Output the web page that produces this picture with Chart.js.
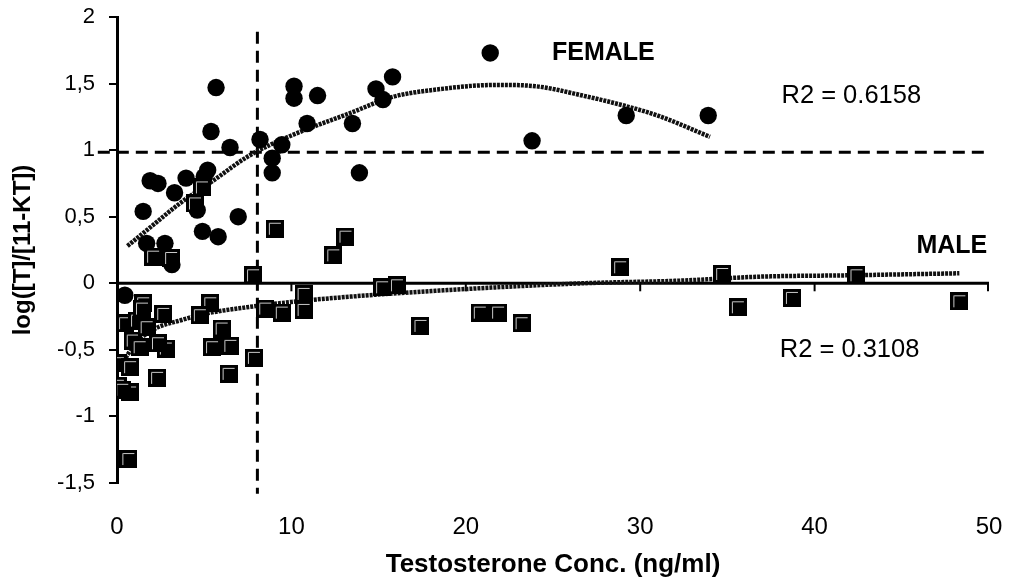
<!DOCTYPE html>
<html><head><meta charset="utf-8">
<script src="https://cdn.jsdelivr.net/npm/chart.js@4.4.1/dist/chart.umd.min.js"></script>
<style>html,body{margin:0;padding:0;background:#fff}#wrap{width:1010px;height:587px}</style>
</head><body><div id="wrap"><canvas id="c" width="1010" height="587"></canvas></div>
<script>
// ---------- data ----------
const femaleX = [5.68,5.39,6.48,8.2,8.9,8.9,1.9,2.35,3.96,5.2,5.0,3.3,4.6,1.5,6.95,4.9,5.8,1.7,2.75,3.15,10.15,10.15,11.5,15.8,14.85,15.25,10.9,13.5,9.45,13.9,21.4,23.8,29.2,33.9,0.45];
const femaleY = [1.47,1.14,1.02,1.08,0.94,0.83,0.77,0.75,0.79,0.85,0.80,0.68,0.55,0.54,0.50,0.39,0.35,0.30,0.30,0.14,1.48,1.39,1.41,1.55,1.46,1.38,1.20,1.20,1.04,0.83,1.73,1.07,1.26,1.26,-0.09];
const maleX = [2.07,3.1,4.87,4.47,9.05,13.1,12.4,7.8,16.05,15.2,10.7,10.7,9.45,8.5,1.5,2.65,0.46,5.35,4.75,6.0,5.45,6.5,6.4,7.85,2.3,2.8,2.35,1.15,0.9,0.05,0.75,0.05,0.75,0.3,0.65,1.7,1.3,1.43,17.4,20.8,21.85,23.2,28.85,34.7,35.6,38.7,42.4,48.3];
const maleY = [0.20,0.19,0.72,0.60,0.41,0.35,0.21,0.06,-0.015,-0.03,-0.08,-0.20,-0.22,-0.19,-0.15,-0.23,-0.30,-0.15,-0.24,-0.34,-0.48,-0.47,-0.68,-0.56,-0.71,-0.49,-0.45,-0.28,-0.43,-0.60,-0.63,-0.77,-0.82,-0.80,-1.32,-0.33,-0.48,-0.19,-0.32,-0.22,-0.22,-0.30,0.12,0.07,-0.18,-0.11,0.06,-0.135];
const femaleTrendX = [0.6,2,3.6,5.5,7.6,10,13.4,15.8,18,21.8,24,26.7,29.2,31,34.0];
const femaleTrendY = [0.28,0.43,0.60,0.77,0.96,1.11,1.28,1.40,1.45,1.49,1.48,1.41,1.33,1.26,1.10];
const maleTrendX = [0.5,1,2.2,3.6,5,7.45,10,13.4,19.1,26.7,32.3,36.9,42,48.3];
const maleTrendY = [-0.56,-0.46,-0.34,-0.28,-0.23,-0.18,-0.14,-0.10,-0.05,0.0,0.02,0.05,0.06,0.075];
const thresholdT = 8.05;      // vertical dashed line (ng/ml)
const thresholdRatio = 0.985; // horizontal dashed line
const xTicks = [0,10,20,30,40,50];
const yTicks = [2,1.5,1,0.5,0,-0.5,-1,-1.5];
const yTickLabels = ['2','1,5','1','0,5','0','-0,5','-1','-1,5'];
const xTitle = 'Testosterone Conc. (ng/ml)';
const yTitle = 'log([T]/[11-KT])';
const notes = [
  {text:'FEMALE', x:24.94, y:1.73, bold:true, align:'left'},
  {text:'R2 = 0.6158', x:38.1, y:1.41, bold:false, align:'left'},
  {text:'MALE', x:49.9, y:0.28, bold:true, align:'right'},
  {text:'R2 = 0.3108', x:38.0, y:-0.50, bold:false, align:'left'}
];
// ---------- helpers ----------
const FONT = '"Liberation Sans", Arial, sans-serif';
const zip = (xs, ys) => xs.map((v,i)=>({x:v, y:ys[i]}));

// square marker with bevel highlight
const sq = document.createElement('canvas');
sq.width = 18; sq.height = 18;
(function(){
  const g = sq.getContext('2d');
  g.fillStyle = '#000'; g.fillRect(0,0,18,18);
  g.strokeStyle = '#c8c8c8'; g.lineWidth = 1;
  g.beginPath(); g.moveTo(3.5,15); g.lineTo(3.5,3.5); g.lineTo(15,3.5); g.stroke();
})();

const overlay = {
  id:'overlay',
  beforeDatasetsDraw(chart){
    const {ctx, scales:{x,y}} = chart;
    const y0 = y.getPixelForValue(0);
    ctx.save();
    ctx.strokeStyle = '#000'; ctx.lineWidth = 3;
    ctx.beginPath();
    ctx.moveTo(x.getPixelForValue(xTicks[0]), y0);
    ctx.lineTo(x.getPixelForValue(xTicks[xTicks.length-1]), y0);
    ctx.stroke();
    ctx.lineWidth = 2;
    xTicks.forEach(v=>{
      if (v===0) return;
      let px = x.getPixelForValue(v);
      if (v===xTicks[xTicks.length-1]) px -= 1;
      ctx.beginPath(); ctx.moveTo(px, y0); ctx.lineTo(px, y0+8); ctx.stroke();
    });
    ctx.restore();
  },
  afterDraw(chart){
    const {ctx, scales:{x,y}} = chart;
    ctx.save();
    ctx.fillStyle = '#000';
    ctx.textBaseline = 'middle';
    notes.forEach(n=>{
      ctx.font = (n.bold?'bold 25px ':'25.5px ') + FONT;
      ctx.textAlign = n.align;
      ctx.fillText(n.text, x.getPixelForValue(n.x), y.getPixelForValue(n.y));
    });
    ctx.restore();
  }
};

new Chart(document.getElementById('c'), {
  type:'scatter',
  data:{
    datasets:[
      {label:'FEMALE', data:zip(femaleX,femaleY), pointStyle:'circle', pointRadius:8.7, backgroundColor:'#000', borderColor:'#000', borderWidth:0, order:1},
      {label:'MALE', data:zip(maleX,maleY), pointStyle:sq, pointRadius:9, backgroundColor:'#000', borderColor:'#000', order:0},
      {label:'female trend', data:zip(femaleTrendX,femaleTrendY), showLine:true, pointRadius:0, borderColor:'#111', borderWidth:4.5, borderDash:[3,1], cubicInterpolationMode:'monotone', order:2},
      {label:'male trend', data:zip(maleTrendX,maleTrendY), showLine:true, pointRadius:0, borderColor:'#111', borderWidth:4.5, borderDash:[3,1], cubicInterpolationMode:'monotone', order:2},
      {label:'h', data:[{x:-1.1,y:thresholdRatio},{x:49.8,y:thresholdRatio}], showLine:true, pointRadius:0, borderColor:'#000', borderWidth:3, borderDash:[12,7], clip:false, order:3},
      {label:'v', data:[{x:thresholdT,y:1.89},{x:thresholdT,y:-1.58}], showLine:true, pointRadius:0, borderColor:'#000', borderWidth:3, borderDash:[12,7], clip:false, order:3}
    ]
  },
  options:{
    responsive:false, animation:false, devicePixelRatio:1,
    layout:{padding:{top:17,right:21,left:0,bottom:0}, autoPadding:false},
    plugins:{legend:{display:false}, tooltip:{enabled:false}},
    scales:{
      x:{
        type:'linear', position:'bottom', min:0, max:50,
        afterBuildTicks(s){ s.ticks = xTicks.map(v=>({value:v})); },
        afterFit(s){ s.height = 104; s.paddingLeft = 0; s.paddingRight = 0; },
        grid:{display:false, drawTicks:false},
        border:{display:false},
        ticks:{padding:30, color:'#000', font:{family:FONT, size:24}, maxRotation:0},
        title:{display:true, text:xTitle, color:'#000', font:{family:FONT, size:26, weight:'bold'}, padding:{top:0,bottom:7}}
      },
      y:{
        type:'linear', min:-1.5, max:2,
        afterBuildTicks(s){ s.ticks = yTicks.map(v=>({value:v})); },
        afterFit(s){ s.width = 117; s.paddingTop = 0; s.paddingBottom = 0; },
        grid:{drawOnChartArea:false, drawTicks:true, tickLength:8, color:'#000', lineWidth:2},
        border:{display:true, color:'#000', width:3},
        ticks:{padding:14, color:'#000', font:{family:FONT, size:22},
          callback:(v)=>{ const i = yTicks.indexOf(v); return i>=0 ? yTickLabels[i] : ''; }},
        title:{display:true, text:yTitle, color:'#000', font:{family:FONT, size:24, weight:'bold'}, padding:{top:9,bottom:0}}
      }
    }
  },
  plugins:[overlay]
});
</script></body></html>
